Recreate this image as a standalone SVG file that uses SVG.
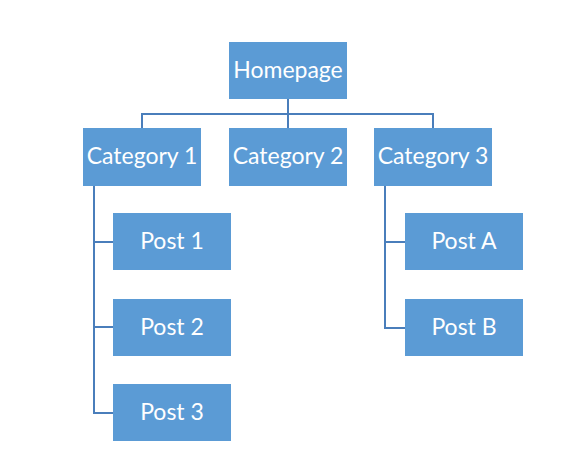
<svg xmlns="http://www.w3.org/2000/svg" width="582" height="476" viewBox="0 0 582 476">
<style>
.box{fill:#5B9BD5;}
.lbl{font-family:Lato,"Open Sans",sans-serif;font-size:23px;fill:#ffffff;text-anchor:middle;}
.ln{fill:none;stroke:#4A7EBB;stroke-width:2;}
</style>
<rect width="582" height="476" fill="#ffffff"/>
<g id="connectors">
<path class="ln" d="M288 99V128M142 128V114H433V128"/>
<path class="ln" d="M94 186V413H113M94 242H113M94 327H113"/>
<path class="ln" d="M385 186V328H405M385 242H405"/>
</g>
<g id="homepage"><rect class="box" x="229" y="42" width="118" height="57"/><text class="lbl" x="288" y="78">Homepage</text></g>
<g id="category1"><rect class="box" x="83" y="128" width="118" height="58"/><text class="lbl" x="142" y="164">Category 1</text></g>
<g id="category2"><rect class="box" x="229" y="128" width="118" height="58"/><text class="lbl" x="288" y="164">Category 2</text></g>
<g id="category3"><rect class="box" x="374" y="128" width="118" height="58"/><text class="lbl" x="433" y="164">Category 3</text></g>
<g id="post1"><rect class="box" x="113" y="213" width="118" height="57"/><text class="lbl" x="172" y="249">Post 1</text></g>
<g id="post2"><rect class="box" x="113" y="299" width="118" height="57"/><text class="lbl" x="172" y="335">Post 2</text></g>
<g id="post3"><rect class="box" x="113" y="384" width="118" height="57"/><text class="lbl" x="172" y="420">Post 3</text></g>
<g id="postA"><rect class="box" x="405" y="213" width="118" height="57"/><text class="lbl" x="464" y="249">Post A</text></g>
<g id="postB"><rect class="box" x="405" y="299" width="118" height="57"/><text class="lbl" x="464" y="335">Post B</text></g>
</svg>
